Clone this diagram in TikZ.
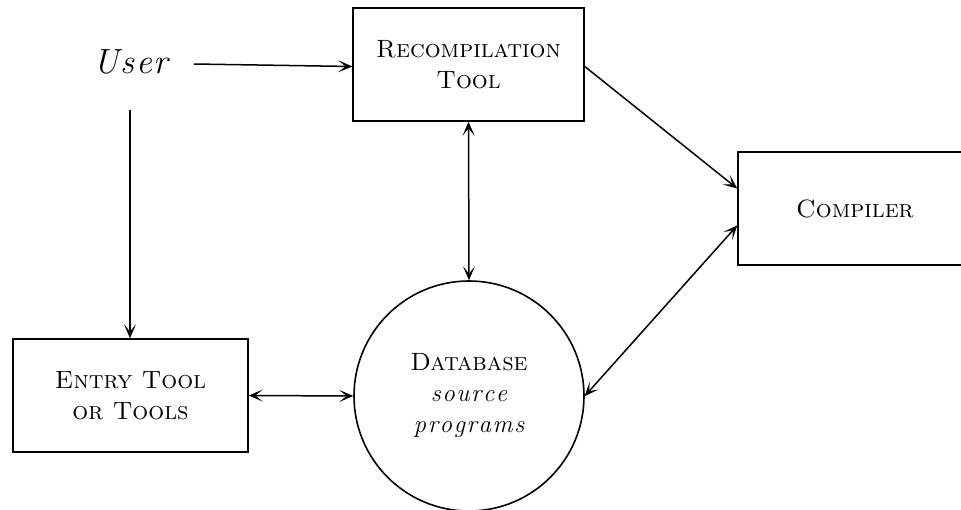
\documentclass[tikz,border=0pt]{standalone}
\usepackage{fontspec}
\usetikzlibrary{arrows.meta}
\def\spcletters#1{\ifx#1\relax\else#1\kern1.6pt\expandafter\spcletters\fi}
\newcommand{\spaceit}[1]{{\itshape\spcletters#1\relax\kern-1.6pt}}
\tikzset{
  boxnode/.style={draw, line width=1.6pt, inner sep=0pt, align=center,
    font=\fontsize{25}{31}\selectfont},
  dbnode/.style={draw, circle, line width=1.6pt, inner sep=0pt, align=center,
    minimum size=230pt, font=\fontsize{25}{31}\selectfont},
  link/.style={line width=1.5pt, >={Stealth[length=14pt,width=12pt,inset=7.5pt,line width=0.8pt]}}
}
\begin{document}
\begin{tikzpicture}[x=1pt,y=-1pt]
\useasboundingbox (0,0) rectangle (961,510);
\node[font=\fontsize{35}{40}\selectfont] (user) at (131,62) {\spaceit{User}};
\node[boxnode, minimum width=231pt, minimum height=113pt] (recomp) at (468.5,64.5)
  {\textsc{Recompilation}\\\textsc{Tool}};
\node[boxnode, minimum width=234pt, minimum height=113pt] (compiler) at (855,208.5)
  {\textsc{Compiler}};
\node[boxnode, minimum width=235pt, minimum height=113pt] (entry) at (130.5,395.5)
  {\textsc{Entry Tool}\\\textsc{or Tools}};
\node[dbnode] (db) at (469,396)
  {\textsc{Database}\\\spaceit{source}\\\spaceit{programs}};
\draw[link,->] ([xshift=22pt,yshift=-2pt]user.east) -- ([yshift=-2pt]recomp.west);
\draw[link,->] (130,110) coordinate (ustart) -- (ustart |- entry.north);
\draw[link,<->] (recomp.south) -- (db.north);
\draw[link,->] ([yshift=-2pt]recomp.east) -- ([yshift=20pt]compiler.west);
\draw[link,<->] (db.east) -- ([yshift=-17pt]compiler.west);
\draw[link,<->] (entry.east) -- (db.west);
\end{tikzpicture}
\end{document}
